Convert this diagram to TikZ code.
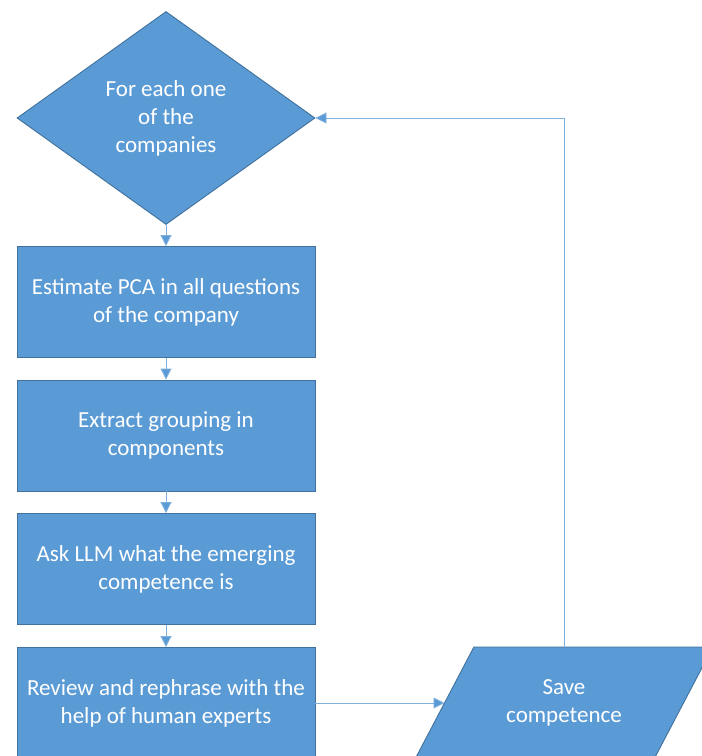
\documentclass[tikz,border=0pt]{standalone}
\usepackage{fontspec}
\setmainfont{Carlito}
\usetikzlibrary{shapes.geometric,arrows.meta}
\definecolor{ofill}{HTML}{5B9BD5}
\definecolor{oline}{HTML}{41719C}
\definecolor{cline}{HTML}{7FB0DE}
\begin{document}
\begin{tikzpicture}[x=1pt,y=-1pt,
  flowbox/.style={rectangle,draw=oline,line width=0.9pt,fill=ofill,text=white,
    minimum width=298pt,minimum height=111pt,inner sep=0pt,align=center,
    font=\fontsize{23}{28}\selectfont},
  decide/.style={diamond,draw=oline,line width=0.9pt,fill=ofill,text=white,
    minimum width=298pt,minimum height=213pt,inner sep=0pt,align=center,
    font=\fontsize{23}{28}\selectfont},
  conn/.style={draw=cline,line width=0.9pt,-{Triangle[length=11pt,width=11pt,fill=ofill]}}]
\useasboundingbox (0,0) rectangle (702,756);
\clip (0,0) rectangle (702,756);
\node[decide] (d) at (166,118) {For each one\\of the\\companies};
\node[flowbox] (b1) at (166,302) {Estimate PCA in all questions\\of the company};
\node[flowbox] (b2) at (166,435.5) {Extract grouping in\\components};
\node[flowbox] (b3) at (166,569) {Ask LLM what the emerging\\competence is};
\node[flowbox] (b4) at (166,703) {Review and rephrase with the\\help of human experts};
\draw[draw=oline,line width=0.9pt,fill=ofill] (473.9,647) -- (712.9,647) -- (654.1,759) -- (415.1,759) -- cycle;
\node[rectangle,minimum width=180pt,minimum height=112pt,inner sep=0pt,text=white,align=center,
  font=\fontsize{23}{28}\selectfont] (s) at (564,703) {Save\\competence};
\coordinate (sleft) at (444.5,703);
\draw[conn] (d.south) -- (b1.north);
\draw[conn] (b1.south) -- (b2.north);
\draw[conn] (b2.south) -- (b3.north);
\draw[conn] (b3.south) -- (b4.north);
\draw[conn] (b4.east) -- (sleft);
\draw[conn] (s.north) |- (d.east);
\end{tikzpicture}
\end{document}
